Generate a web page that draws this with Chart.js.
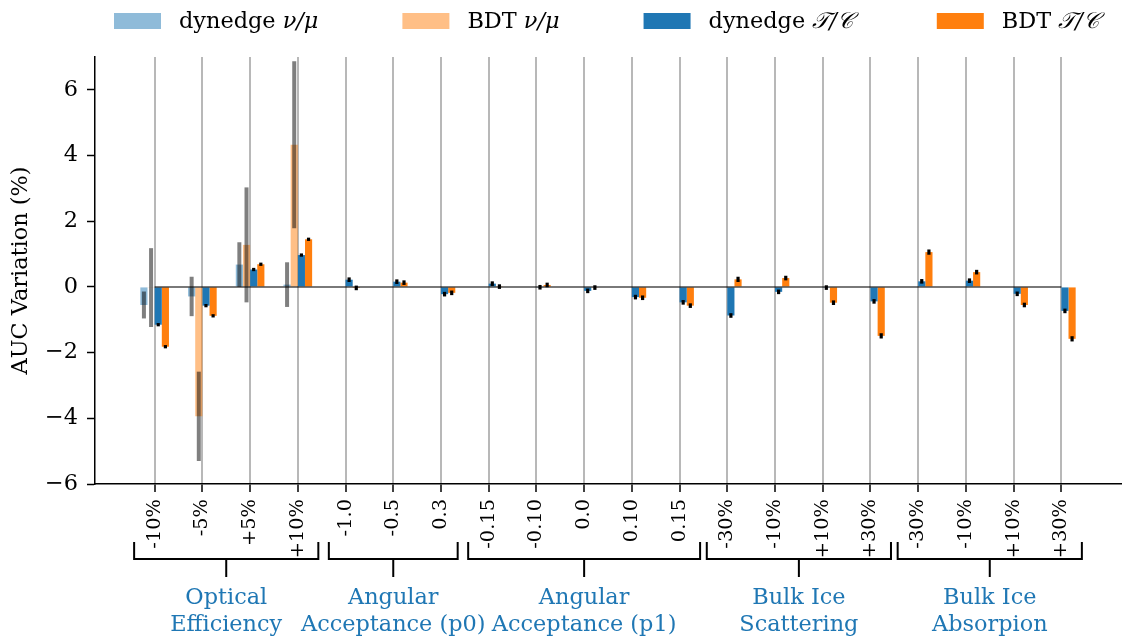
<!DOCTYPE html>
<html><head><meta charset="utf-8">
<script src="https://cdn.jsdelivr.net/npm/chart.js@4"></script>
<style>html,body{margin:0;padding:0;background:#fff}#wrap{width:1122px;height:637px}</style>
</head><body><div id="wrap"><canvas id="c" width="1122" height="637"></canvas></div>
<script>
const CATEGORIES = ['-10%','-5%','+5%','+10%','-1.0','-0.5','0.3','-0.15','-0.10','0.0','0.10','0.15','-30%','-10%','+10%','+30%','-30%','-10%','+10%','+30%'];
const GROUP_LABELS = [['Optical','Efficiency'],['Angular','Acceptance (p0)'],['Angular','Acceptance (p1)'],['Bulk Ice','Scattering'],['Bulk Ice','Absorpion']];
const GROUP_FIRST = [0,4,7,12,16];
const GROUP_LAST = [3,6,11,15,19];
const N = null;
const DYNEDGE_NUMU     = [-0.55,-0.29,0.68,0.07, N,N,N,N,N,N,N,N,N,N,N,N,N,N,N,N];
const DYNEDGE_NUMU_ERR = [0.41,0.60,0.68,0.68, N,N,N,N,N,N,N,N,N,N,N,N,N,N,N,N];
const BDT_NUMU         = [-0.02,-3.94,1.28,4.33, N,N,N,N,N,N,N,N,N,N,N,N,N,N,N,N];
const BDT_NUMU_ERR     = [1.20,1.36,1.75,2.54, N,N,N,N,N,N,N,N,N,N,N,N,N,N,N,N];
const DYNEDGE_TC       = [-1.15,-0.57,0.53,0.97,0.22,0.16,-0.22,0.10,-0.01,-0.12,-0.31,-0.47,-0.87,-0.15,-0.02,-0.44,0.17,0.19,-0.21,-0.73];
const DYNEDGE_TC_ERR   = [0.05,0.05,0.05,0.05,0.07,0.07,0.07,0.07,0.07,0.07,0.07,0.07,0.07,0.07,0.07,0.07,0.07,0.07,0.07,0.07];
const BDT_TC           = [-1.82,-0.88,0.69,1.45,-0.03,0.13,-0.18,0.01,0.06,-0.02,-0.33,-0.57,0.23,0.27,-0.48,-1.49,1.06,0.45,-0.55,-1.58];
const BDT_TC_ERR       = [0.05,0.05,0.05,0.05,0.07,0.07,0.07,0.07,0.07,0.07,0.07,0.07,0.08,0.07,0.07,0.08,0.08,0.07,0.07,0.08];
const Y_TICKS = [-6,-4,-2,0,2,4,6];
const SERIES_NAMES = [['dynedge ','\u03BD/\u03BC'],['BDT ','\u03BD/\u03BC'],['dynedge ','\uD835\uDCAF/\uD835\uDC9E'],['BDT ','\uD835\uDCAF/\uD835\uDC9E']];

const FONT = "'DejaVu Serif', serif";
const FS = 22.4;      // legend, y ticks, y title, group labels
const FS_X = 19.4;    // rotated x tick labels
const COLORS = ['rgba(31,119,180,0.5)','rgba(255,127,14,0.5)','#1f77b4','#ff7f0e'];
const ERR_COLORS = ['rgba(0,0,0,0.5)','rgba(0,0,0,0.5)','#000','#000'];
const ERR_WIDTH = [4,4,3.2,3.2];

const VALUES = [DYNEDGE_NUMU, BDT_NUMU, DYNEDGE_TC, BDT_TC];
const ERRORS = [DYNEDGE_NUMU_ERR, BDT_NUMU_ERR, DYNEDGE_TC_ERR, BDT_TC_ERR];

const datasets = VALUES.map((vals, k) => ({
  label: SERIES_NAMES[k].join(''),
  data: CATEGORIES.map((_, i) => ({x: i, y: vals[i]})),
  backgroundColor: COLORS[k],
  borderWidth: 0,
  categoryPercentage: 0.6,
  barPercentage: 1.0,
  errors: ERRORS[k]
}));

const overlayPlugin = {
  id: 'overlay',
  afterDatasetsDraw(chart) {
    const ctx = chart.ctx, xs = chart.scales.x, ys = chart.scales.y;
    ctx.save();
    ctx.strokeStyle = 'rgba(0,0,0,0.7)';
    ctx.lineWidth = 1.5;
    ctx.beginPath();
    ctx.moveTo(xs.getPixelForValue(0), ys.getPixelForValue(0));
    ctx.lineTo(xs.getPixelForValue(CATEGORIES.length - 1), ys.getPixelForValue(0));
    ctx.stroke();
    chart.data.datasets.forEach((ds, k) => {
      const meta = chart.getDatasetMeta(k);
      ctx.strokeStyle = ERR_COLORS[k];
      ctx.lineWidth = ERR_WIDTH[k];
      meta.data.forEach((el, i) => {
        const v = VALUES[k][i], e = ds.errors[i];
        if (v === null || e === null) return;
        ctx.beginPath();
        ctx.moveTo(el.x, ys.getPixelForValue(v + e));
        ctx.lineTo(el.x, ys.getPixelForValue(v - e));
        ctx.stroke();
      });
    });
    ctx.restore();
  },
  afterDraw(chart) {
    const ctx = chart.ctx, xs = chart.scales.x;
    ctx.save();
    ctx.strokeStyle = '#000';
    ctx.lineWidth = 2;
    ctx.font = FS + 'px ' + FONT;
    ctx.textAlign = 'center';
    ctx.textBaseline = 'alphabetic';
    GROUP_LABELS.forEach((lines, g) => {
      const mid = (GROUP_FIRST[g] + GROUP_LAST[g]) / 2;
      const n = GROUP_LAST[g] - GROUP_FIRST[g];
      const half = (n + (n === 2 ? 0.7 : 0.86)) / 2;
      const x0 = xs.getPixelForValue(mid - half), x1 = xs.getPixelForValue(mid + half), xc = xs.getPixelForValue(mid);
      ctx.beginPath();
      ctx.moveTo(x0, 542); ctx.lineTo(x0, 559); ctx.lineTo(x1, 559); ctx.lineTo(x1, 542);
      ctx.moveTo(xc, 559); ctx.lineTo(xc, 577);
      ctx.stroke();
      ctx.fillStyle = '#1f77b4';
      ctx.fillText(lines[0], xc, 604);
      ctx.fillText(lines[1], xc, 631);
    });
    let x = 114;
    const boxW = 47, boxH = 16, boxY = 13, baseY = 28;
    SERIES_NAMES.forEach((parts, k) => {
      ctx.fillStyle = COLORS[k];
      ctx.fillRect(x, boxY, boxW, boxH);
      let tx = x + boxW + 18;
      ctx.fillStyle = '#000';
      ctx.textAlign = 'left';
      ctx.font = FS + 'px ' + FONT;
      ctx.fillText(parts[0], tx, baseY);
      tx += ctx.measureText(parts[0]).width;
      ctx.font = 'italic ' + FS + 'px ' + FONT;
      ctx.fillText(parts[1], tx, baseY);
      tx += ctx.measureText(parts[1]).width;
      x = tx + 84;
    });
    ctx.restore();
  }
};

new Chart(document.getElementById('c'), {
  type: 'bar',
  data: { datasets },
  plugins: [overlayPlugin],
  options: {
    responsive: false,
    animation: false,
    devicePixelRatio: 1,
    layout: { padding: { top: 57, right: 1, bottom: 0, left: 0 } },
    plugins: { legend: { display: false }, tooltip: { enabled: false } },
    scales: {
      x: {
        type: 'linear',
        min: -1.25, max: 20.25,
        offset: false,
        afterBuildTicks: s => { s.ticks = CATEGORIES.map((_, i) => ({ value: i })); },
        afterFit: s => { s.height = 153; },
        grid: { offset: false, color: '#b8b8b8', lineWidth: 2, drawTicks: true, tickLength: 8, tickColor: '#000', tickWidth: 1.5 },
        border: { color: '#000', width: 1.5 },
        ticks: {
          autoSkip: false, minRotation: 90, maxRotation: 90, padding: 7,
          color: '#000', font: { family: FONT, size: FS_X },
          callback: v => CATEGORIES[v]
        }
      },
      y: {
        min: -6, max: 7,
        afterBuildTicks: s => { s.ticks = Y_TICKS.map(v => ({ value: v })); },
        afterFit: s => { s.width = 95; },
        grid: { drawOnChartArea: false, drawTicks: true, tickLength: 8, tickColor: '#000', tickWidth: 1.5 },
        border: { color: '#000', width: 1.5 },
        ticks: {
          padding: 9, color: '#000', font: { family: FONT, size: FS },
          callback: v => v < 0 ? '\u2212' + Math.abs(v) : String(v)
        },
        title: { display: true, text: 'AUC Variation (%)', color: '#000', font: { family: FONT, size: FS }, padding: { top: 8, bottom: 0 } }
      }
    }
  }
});
</script>
</body></html>
